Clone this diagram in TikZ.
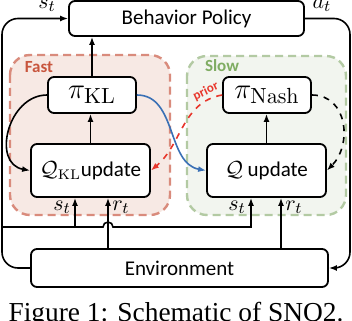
\documentclass[tikz,border=0pt]{standalone}
\usepackage{amsmath}
\usepackage[no-math]{fontspec}
\newfontfamily\carlito{Carlito}
\newfontfamily\capfont{Liberation Serif}
\usepackage{xcolor}
\usepackage{tikz}
\usetikzlibrary{positioning, calc, arrows.meta}

\definecolor{fastfill}{HTML}{F7E9E4}
\definecolor{fastline}{HTML}{D98B7C}
\definecolor{fasttext}{HTML}{C8553D}
\definecolor{slowfill}{HTML}{F2F5EF}
\definecolor{slowline}{HTML}{B3CAA3}
\definecolor{slowtext}{HTML}{7FAC62}
\definecolor{blueflow}{HTML}{3A70B5}
\definecolor{redflow}{HTML}{E8372C}

\begin{document}
\begin{tikzpicture}[x=0.5pt, y=-0.5pt, >={Latex[length=4pt,width=3pt]},
    box/.style={draw, rectangle, rounded corners=3pt, line width=0.9pt, inner sep=0pt, fill=white, font=\fontsize{10.5}{12}\carlito},
    pibox/.style={box, minimum width=44pt, minimum height=18pt, font=\fontsize{15}{18}\selectfont},
    qbox/.style={box, minimum width=59.5pt, minimum height=26.5pt},
    region/.style={rectangle, rounded corners=10pt, line width=1.2pt, dash pattern=on 4pt off 2.5pt},
    flow/.style={->, line width=0.8pt},
    sig/.style={font=\fontsize{11}{13}\selectfont, inner sep=1pt}]
        \useasboundingbox (0,0) rectangle (352,320);

        % fast and slow regions
        \draw[region, draw=fastline, fill=fastfill] (10,55) rectangle (170,215);
        \draw[region, draw=slowline, fill=slowfill] (187,56) rectangle (346,215);
        \node[font=\fontsize{8.5}{10}\bfseries\carlito, text=fasttext] (fast) at (39,67) {Fast};
        \node[font=\fontsize{8.5}{10}\bfseries\carlito, text=slowtext] (slow) at (222,66) {Slow};

        \node[box, minimum width=117.5pt, minimum height=17.5pt] (bp) at (186.5,18.5) {Behavior Policy};
        \node[box, minimum width=148.5pt, minimum height=19pt] (env) at (179.5,268) {Environment};
        \node[pibox] (pikl) at (92,95) {$\pi_{\mathrm{KL}}$};
        \node[pibox] (pinash) at (267,95) {$\pi_{\mathrm{Nash}}$};
        \node[qbox] (qkl) at (90.5,170.5) {$\mathcal{Q}_{\mathrm{KL}}$update};
        \node[qbox] (q) at (266.5,170.5) {$\mathcal{Q}$ update};

        % environment loop
        \coordinate (lside) at (2,150);
        \coordinate (rside) at (350,150);
        \draw[flow, rounded corners=8pt] (env.west) -| (lside) |- (bp.west);
        \draw[flow, rounded corners=8pt] (bp.east) -| (rside) |- (env.east);
        \node[sig] (st) at (47,5) {$s_t$};
        \node[sig] (at) at (322,5) {$a_t$};

        \draw[flow] (pikl.north) -- (pikl.north |- bp.south);
        \draw[flow] (qkl.north) -- (qkl.north |- pikl.south);
        \draw[flow] (q.north) -- (q.north |- pinash.south);

        % states and rewards
        \coordinate (sj) at (2,227);
        \coordinate (rkl) at (108,249);
        \coordinate (rq) at (281,249);
        \draw[flow] (sj) -| ($(qkl.south)+(-15.5,0)$);
        \draw[flow] (sj) -- (103,227) arc[start angle=180, end angle=0, radius=2.5pt] -| ($(q.south)+(-15.5,0)$);
        \draw[flow] (rkl) -- (rkl |- qkl.south);
        \draw[flow] (rq) -- (rq |- q.south);
        \node[sig] (st1) at (62,207) {$s_t$};
        \node[sig] (rt1) at (121,207) {$r_t$};
        \node[sig] (st2) at (237,207) {$s_t$};
        \node[sig] (rt2) at (294,207) {$r_t$};

        % curved links
        \draw[flow] (pikl.west) to[out=180, in=170, looseness=1.3] (qkl.west);
        \draw[flow, dashed] (pinash.east) to[out=0, in=45, looseness=1.2] (q.east);
        \draw[flow, blueflow] (pikl.east) to[out=0, in=170] (q.west);
        \draw[flow, redflow, dashed] (pinash.west) to[out=190, in=40]
            node[pos=0.12, above, sloped, font=\fontsize{6.5}{7}\bfseries\carlito, inner sep=1pt] {prior} (qkl.east);

        \node[font=\fontsize{13.7}{16}\capfont, anchor=base] (cap) at (176,321) {Figure 1: Schematic of SNQ2.};
      \end{tikzpicture}
\end{document}
